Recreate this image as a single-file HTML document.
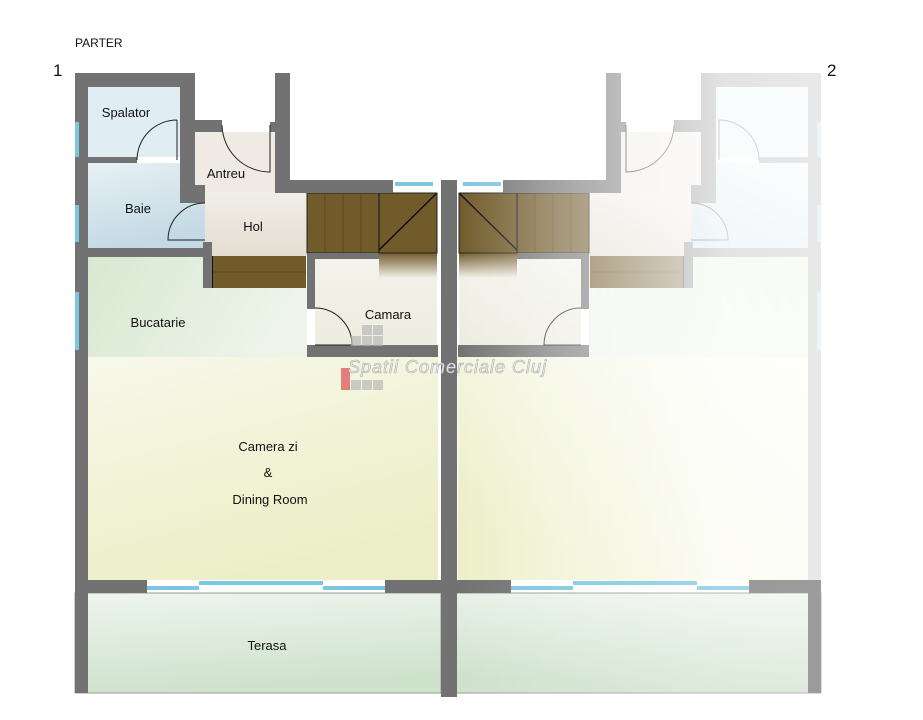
<!DOCTYPE html>
<html><head><meta charset="utf-8"><style>
html,body{margin:0;padding:0;background:#fff;}
svg{display:block;}
text{font-family:"Liberation Sans",sans-serif;fill:#111;}
</style></head><body>
<svg width="923" height="720" viewBox="0 0 923 720" xmlns="http://www.w3.org/2000/svg">
<defs>
<linearGradient id="baie" x1="0" y1="0" x2="0.3" y2="1"><stop offset="0" stop-color="#e8f1f5"/><stop offset="1" stop-color="#c3d9e4"/></linearGradient>
<linearGradient id="hol" x1="0" y1="0" x2="0" y2="1"><stop offset="0" stop-color="#f1eee8"/><stop offset="1" stop-color="#e4ddd1"/></linearGradient>
<linearGradient id="buc" x1="0" y1="0" x2="1" y2="0.3"><stop offset="0" stop-color="#d8e8d0"/><stop offset="1" stop-color="#eef4ea"/></linearGradient>
<linearGradient id="liv" x1="0" y1="0" x2="0.4" y2="1"><stop offset="0" stop-color="#f7f8ea"/><stop offset="1" stop-color="#ecefc6"/></linearGradient>
<linearGradient id="ter" x1="0" y1="0" x2="0.2" y2="1"><stop offset="0" stop-color="#eef5ee"/><stop offset="1" stop-color="#cfe2cc"/></linearGradient>
<linearGradient id="cam" x1="0" y1="0" x2="0" y2="1"><stop offset="0" stop-color="#f3f3ec"/><stop offset="1" stop-color="#ecece0"/></linearGradient>
<linearGradient id="land" x1="0" y1="0" x2="0" y2="1"><stop offset="0" stop-color="#715b2b"/><stop offset="1" stop-color="#715b2b" stop-opacity="0"/></linearGradient>
<linearGradient id="fade" x1="0" y1="0" x2="1" y2="0">
<stop offset="0" stop-color="#fff" stop-opacity="0"/>
<stop offset="0.25" stop-color="#fff" stop-opacity="0.35"/>
<stop offset="0.7" stop-color="#fff" stop-opacity="0.8"/>
<stop offset="1" stop-color="#fff" stop-opacity="0.85"/>
</linearGradient>
<g id="unit">
<rect x="88" y="87" width="92" height="70" fill="#e0eef3"/>
<rect x="88" y="163" width="117" height="85" fill="url(#baie)"/>
<rect x="195" y="132" width="80" height="60" fill="#efebe4"/>
<rect x="205" y="192" width="102" height="64" fill="url(#hol)"/>
<rect x="88" y="257" width="219" height="108" fill="url(#buc)"/>
<rect x="315" y="258" width="122" height="87" fill="url(#cam)"/>
<rect x="88" y="357" width="350" height="223" fill="url(#liv)"/>
<rect x="75" y="593" width="366" height="100" fill="url(#ter)" stroke="#9a9a9a" stroke-width="1"/>
<rect x="307" y="193" width="130" height="60" fill="#715b2b"/>
<g stroke="#5a4a24" stroke-width="1"><line x1="325" y1="193" x2="325" y2="253"/><line x1="343" y1="193" x2="343" y2="253"/><line x1="361" y1="193" x2="361" y2="253"/><line x1="379" y1="193" x2="379" y2="253"/></g>
<rect x="379" y="253" width="58" height="25" fill="url(#land)"/>
<line x1="379" y1="250" x2="437" y2="193" stroke="#111" stroke-width="1.5"/>
<line x1="379" y1="193" x2="379" y2="253" stroke="#111" stroke-width="1"/>
<rect x="307" y="193" width="130" height="60" fill="none" stroke="#222" stroke-width="1"/>
<rect x="212" y="256" width="94" height="32" fill="#715b2b"/>
<line x1="212" y1="272" x2="306" y2="272" stroke="#5a4a24"/>
<rect x="210" y="256" width="3" height="32" fill="#111"/>
<g fill="#727272">
<rect x="75" y="73" width="13" height="620"/>
<rect x="75" y="73" width="120" height="14"/>
<rect x="180" y="73" width="15" height="117"/>
<rect x="180" y="120" width="42" height="12"/>
<rect x="270" y="122" width="6" height="10"/>
<rect x="275" y="73" width="15" height="120"/>
<rect x="275" y="180" width="118" height="13"/>
<rect x="75" y="157" width="62" height="6"/>
<rect x="180" y="185" width="25" height="18"/>
<rect x="75" y="248" width="130" height="9"/>
<rect x="203" y="242" width="9" height="46"/>
<rect x="307" y="253" width="8" height="56"/>
<rect x="307" y="253" width="72" height="6"/>
<rect x="307" y="345" width="8" height="12"/>
<rect x="307" y="345" width="131" height="12"/>
<rect x="75" y="580" width="72" height="13"/>
<rect x="385" y="580" width="56" height="13"/>
</g>
<g fill="#7cc6df">
<rect x="75" y="122" width="4" height="35"/>
<rect x="75" y="205" width="4" height="37"/>
<rect x="75" y="292" width="4" height="58"/>
<rect x="395" y="182" width="38" height="4"/>
<rect x="147" y="586" width="52" height="4"/>
<rect x="199" y="581" width="124" height="4"/>
<rect x="323" y="586" width="62" height="4"/>
</g>
<g fill="none" stroke="#222" stroke-width="1">
<path d="M177 120 L177 160 M177 120 A40 40 0 0 0 137 160"/>
<path d="M222 125 A48 48 0 0 0 270 172 L270 125"/>
<path d="M205 203 A37 37 0 0 0 168 240 L205 240"/>
<path d="M315 308 A37 37 0 0 1 352 345 L315 345"/>
</g>
</g>
</defs>

<text x="75" y="47" font-size="12">PARTER</text>
<text x="53" y="76" font-size="17">1</text>

<use href="#unit"/>
<use href="#unit" transform="translate(896,0) scale(-1,1)"/>
<rect x="441" y="180" width="16" height="517" fill="#727272"/>
<rect x="463" y="182" width="36" height="4" fill="#7cc6df"/>
<rect x="458" y="60" width="380" height="520" fill="url(#fade)"/>
<rect x="458" y="580" width="380" height="120" fill="url(#fade)" opacity="0.35"/>

<text x="827" y="76" font-size="17">2</text>
<text x="126" y="117" font-size="13" text-anchor="middle">Spalator</text>
<text x="226" y="178" font-size="13" text-anchor="middle">Antreu</text>
<text x="138" y="213" font-size="13" text-anchor="middle">Baie</text>
<text x="253" y="231" font-size="13" text-anchor="middle">Hol</text>
<text x="158" y="327" font-size="13" text-anchor="middle">Bucatarie</text>
<text x="388" y="319" font-size="13" text-anchor="middle">Camara</text>
<text x="268" y="451" font-size="13" text-anchor="middle">Camera zi</text>
<text x="268" y="477" font-size="13" text-anchor="middle">&amp;</text>
<text x="270" y="504" font-size="13" text-anchor="middle">Dining Room</text>
<text x="267" y="650" font-size="13" text-anchor="middle">Terasa</text>

<g fill="#b8b8b8" opacity="0.7">
<rect x="362" y="325" width="10" height="10"/><rect x="373" y="325" width="10" height="10"/>
<rect x="351" y="336" width="10" height="10"/><rect x="362" y="336" width="10" height="10"/><rect x="373" y="336" width="10" height="10"/>
<rect x="351" y="380" width="10" height="10"/><rect x="362" y="380" width="10" height="10"/><rect x="373" y="380" width="10" height="10"/>
</g>
<rect x="341" y="368" width="9" height="22" fill="#e06060" opacity="0.8"/>
<text x="348" y="373" font-size="18" font-style="italic" style="fill:#e8e8e8;stroke:#b0b0b0;stroke-width:0.6" letter-spacing="1">Spatii Comerciale Cluj</text>
</svg>
</body></html>
